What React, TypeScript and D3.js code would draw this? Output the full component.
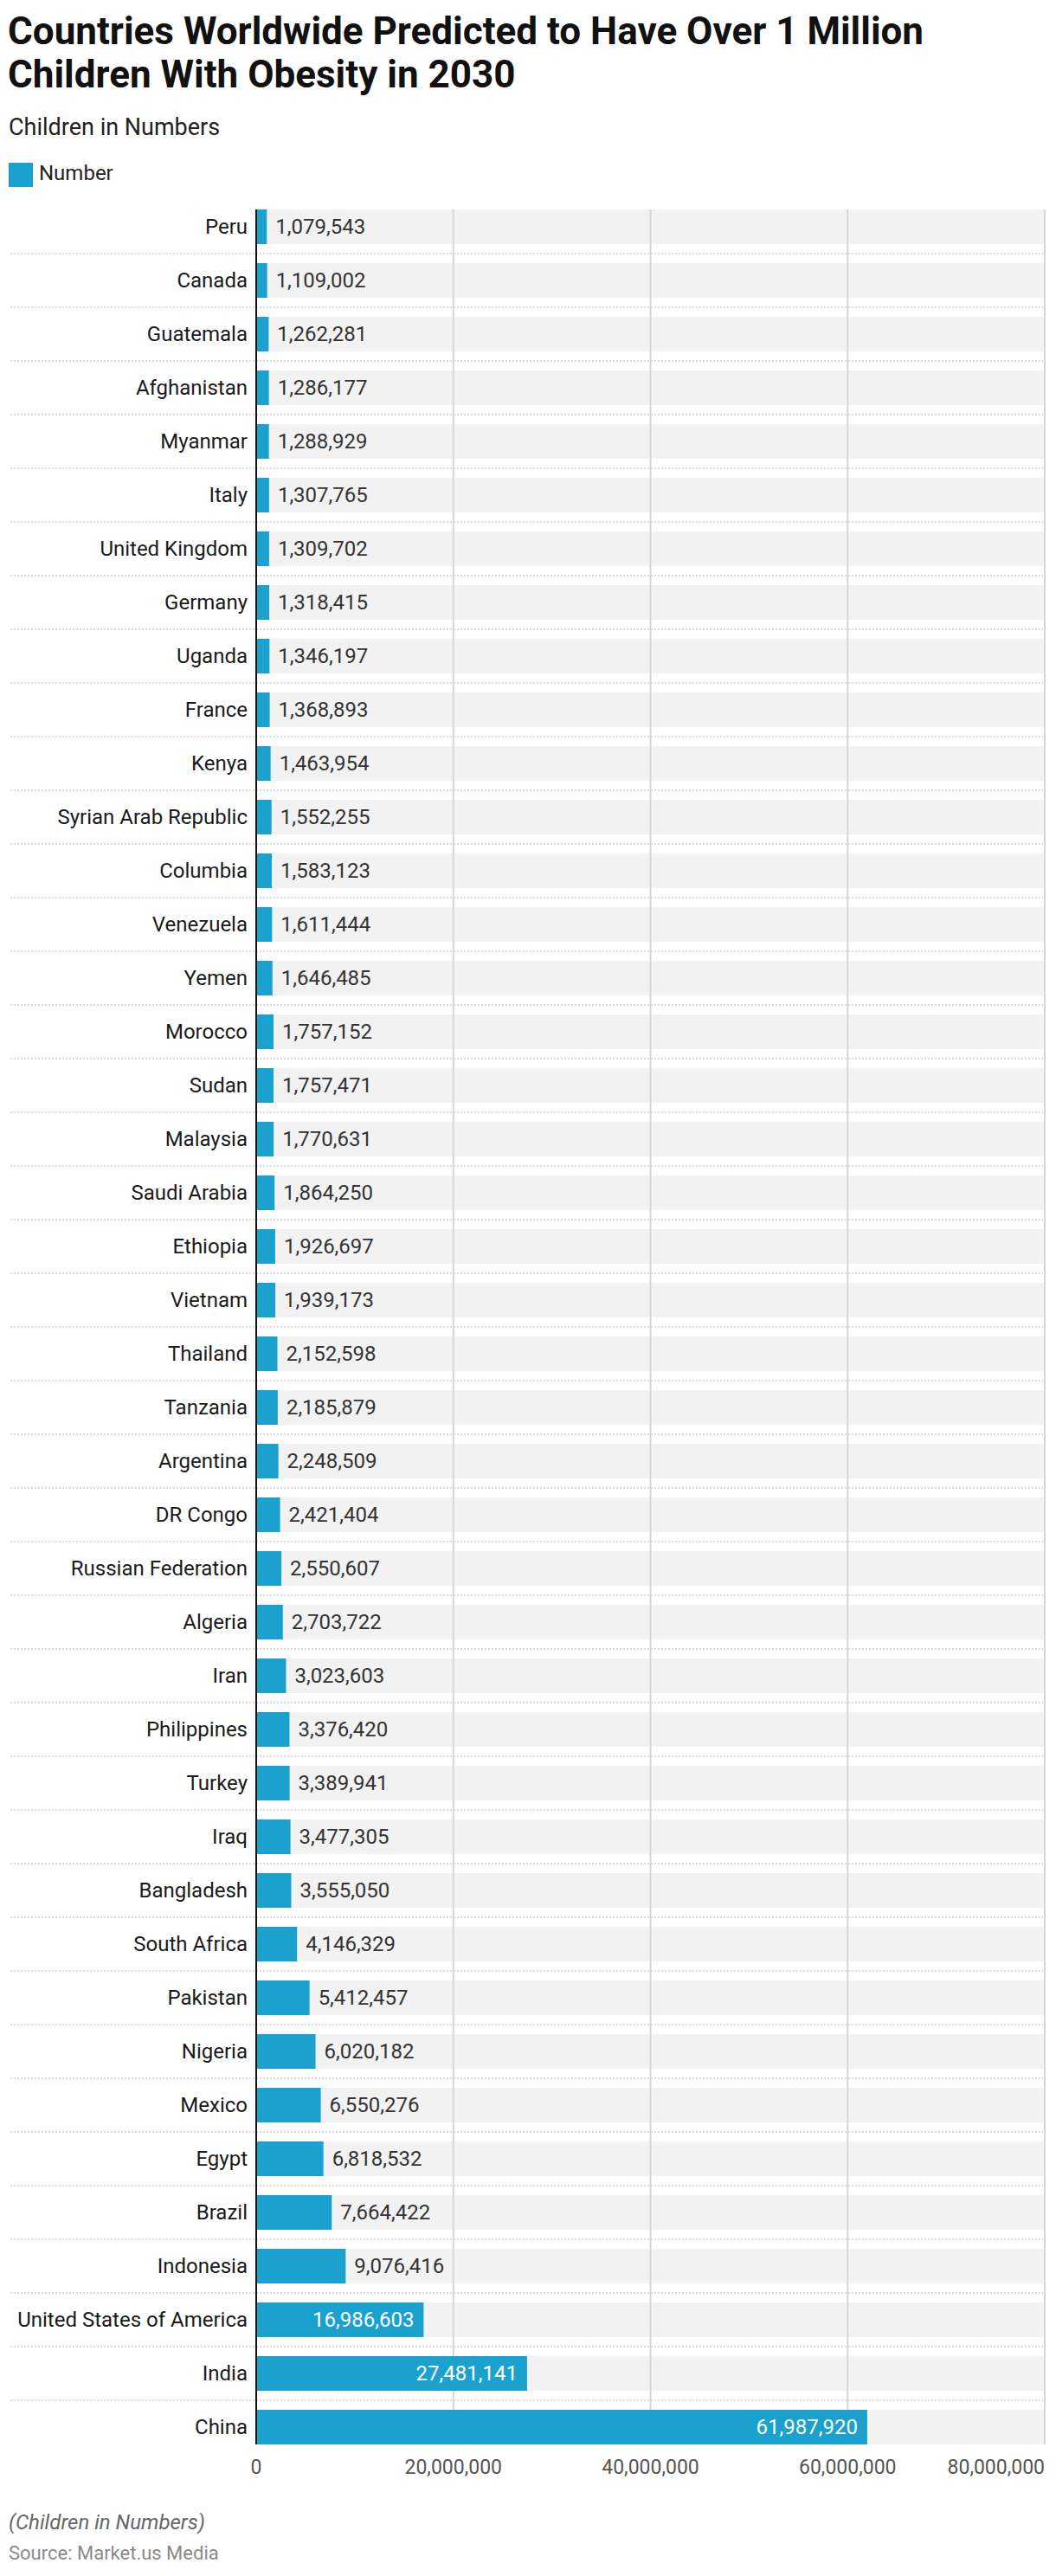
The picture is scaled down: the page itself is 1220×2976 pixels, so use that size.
import * as d3 from 'd3'
import React, { useEffect, useRef } from 'react'

const countries = [
  'Peru', 'Canada', 'Guatemala', 'Afghanistan', 'Myanmar', 'Italy', 'United Kingdom', 'Germany',
  'Uganda', 'France', 'Kenya', 'Syrian Arab Republic', 'Columbia', 'Venezuela', 'Yemen', 'Morocco',
  'Sudan', 'Malaysia', 'Saudi Arabia', 'Ethiopia', 'Vietnam', 'Thailand', 'Tanzania', 'Argentina',
  'DR Congo', 'Russian Federation', 'Algeria', 'Iran', 'Philippines', 'Turkey', 'Iraq', 'Bangladesh',
  'South Africa', 'Pakistan', 'Nigeria', 'Mexico', 'Egypt', 'Brazil', 'Indonesia',
  'United States of America', 'India', 'China',
]

const numbers = [
  1079543, 1109002, 1262281, 1286177, 1288929, 1307765, 1309702, 1318415,
  1346197, 1368893, 1463954, 1552255, 1583123, 1611444, 1646485, 1757152,
  1757471, 1770631, 1864250, 1926697, 1939173, 2152598, 2185879, 2248509,
  2421404, 2550607, 2703722, 3023603, 3376420, 3389941, 3477305, 3555050,
  4146329, 5412457, 6020182, 6550276, 6818532, 7664422, 9076416,
  16986603, 27481141, 61987920,
]

const xTicks = [0, 20000000, 40000000, 60000000, 80000000]

const titleLines = [
  'Countries Worldwide Predicted to Have Over 1 Million',
  'Children With Obesity in 2030',
]
const subtitle = 'Children in Numbers'
const seriesName = 'Number'
const footNote = '(Children in Numbers)'
const sourceText = 'Source: Market.us Media'

const W = 1220
const H = 2976
const BAR = '#1ba1cd'
const FONT = 'Roboto, "Noto Sans", sans-serif'

export default function App() {
  const svgRef = useRef<SVGSVGElement>(null)

  useEffect(() => {
    if (!svgRef.current) return
    const svg = d3.select(svgRef.current)
    svg.selectAll('*').remove()

    svg.append('rect').attr('width', W).attr('height', H).attr('fill', '#fff')

    // header
    svg.append('g')
      .selectAll('text')
      .data(titleLines)
      .join('text')
      .attr('x', 9)
      .attr('y', (_, i) => 51 + i * 50)
      .attr('font-family', FONT)
      .attr('font-weight', 700)
      .attr('font-size', 44)
      .attr('fill', '#111')
      .text(d => d)

    svg.append('text')
      .attr('x', 10)
      .attr('y', 156)
      .attr('font-family', FONT)
      .attr('font-size', 27)
      .attr('fill', '#222')
      .text(subtitle)

    svg.append('rect').attr('x', 10).attr('y', 188).attr('width', 28).attr('height', 28).attr('fill', BAR)
    svg.append('text')
      .attr('x', 45)
      .attr('y', 208)
      .attr('font-family', FONT)
      .attr('font-size', 24)
      .attr('fill', '#222')
      .text(seriesName)

    // scales
    const x = d3.scaleLinear().domain([0, 80000000]).range([296, 1207])
    const y = d3.scaleBand<string>()
      .domain(countries)
      .range([231, 231 + countries.length * 62])
      .paddingInner(22 / 62)
      .paddingOuter(11 / 62)

    const top = y(countries[0]) as number
    const bottom = (y(countries[countries.length - 1]) as number) + y.bandwidth()

    // background bands
    svg.append('g')
      .selectAll('rect')
      .data(countries)
      .join('rect')
      .attr('x', x(0))
      .attr('y', d => y(d) as number)
      .attr('width', x(80000000) - x(0))
      .attr('height', y.bandwidth())
      .attr('fill', '#f2f2f2')

    // dotted separators
    svg.append('g')
      .selectAll('line')
      .data(countries.slice(1))
      .join('line')
      .attr('x1', 12)
      .attr('x2', x(80000000) - 2)
      .attr('y1', d => (y(d) as number) - 11)
      .attr('y2', d => (y(d) as number) - 11)
      .attr('stroke', '#d0d0d0')
      .attr('stroke-width', 1.5)
      .attr('stroke-dasharray', '2,2')

    // gridlines
    svg.append('g')
      .selectAll('line')
      .data(xTicks.slice(1))
      .join('line')
      .attr('x1', d => x(d))
      .attr('x2', d => x(d))
      .attr('y1', top)
      .attr('y2', bottom)
      .attr('stroke', '#d6d6d6')
      .attr('stroke-width', 2)

    // bars
    svg.append('g')
      .selectAll('rect')
      .data(countries)
      .join('rect')
      .attr('x', x(0))
      .attr('y', d => y(d) as number)
      .attr('width', (_, i) => x(numbers[i]) - x(0))
      .attr('height', y.bandwidth())
      .attr('fill', BAR)

    // axis line
    svg.append('line')
      .attr('x1', x(0))
      .attr('x2', x(0))
      .attr('y1', top)
      .attr('y2', bottom)
      .attr('stroke', '#111')
      .attr('stroke-width', 2)

    // category labels
    svg.append('g')
      .selectAll('text')
      .data(countries)
      .join('text')
      .attr('x', 286)
      .attr('y', d => (y(d) as number) + y.bandwidth() / 2)
      .attr('dy', '0.35em')
      .attr('text-anchor', 'end')
      .attr('font-family', FONT)
      .attr('font-size', 24)
      .attr('fill', '#1a1a1a')
      .text(d => d)

    // value labels
    const fmt = d3.format(',')
    svg.append('g')
      .selectAll('text')
      .data(countries)
      .join('text')
      .each(function (d, i) {
        const w = x(numbers[i]) - x(0)
        const inside = w > 140
        d3.select(this)
          .attr('x', inside ? x(numbers[i]) - 11 : x(numbers[i]) + 10)
          .attr('text-anchor', inside ? 'end' : 'start')
          .attr('fill', inside ? '#fff' : '#333')
      })
      .attr('y', d => (y(d) as number) + y.bandwidth() / 2)
      .attr('dy', '0.35em')
      .attr('font-family', FONT)
      .attr('font-size', 24)
      .text((_, i) => fmt(numbers[i]))

    // x tick labels
    svg.append('g')
      .selectAll('text')
      .data(xTicks)
      .join('text')
      .attr('x', d => x(d))
      .attr('y', 2858)
      .attr('text-anchor', (_, i) => (i === xTicks.length - 1 ? 'end' : 'middle'))
      .attr('font-family', FONT)
      .attr('font-size', 23)
      .attr('fill', '#555')
      .text(d => fmt(d))

    // footer
    svg.append('text')
      .attr('x', 10)
      .attr('y', 2922)
      .attr('font-family', FONT)
      .attr('font-style', 'italic')
      .attr('font-size', 24)
      .attr('fill', '#666')
      .text(footNote)

    svg.append('text')
      .attr('x', 10)
      .attr('y', 2957)
      .attr('font-family', FONT)
      .attr('font-size', 22)
      .attr('fill', '#8a8a8a')
      .text(sourceText)
  }, [])

  return (
    <>
      <style>{'body{margin:0}'}</style>
      <svg ref={svgRef} width={W} height={H} style={{ display: 'block' }} />
    </>
  )
}
